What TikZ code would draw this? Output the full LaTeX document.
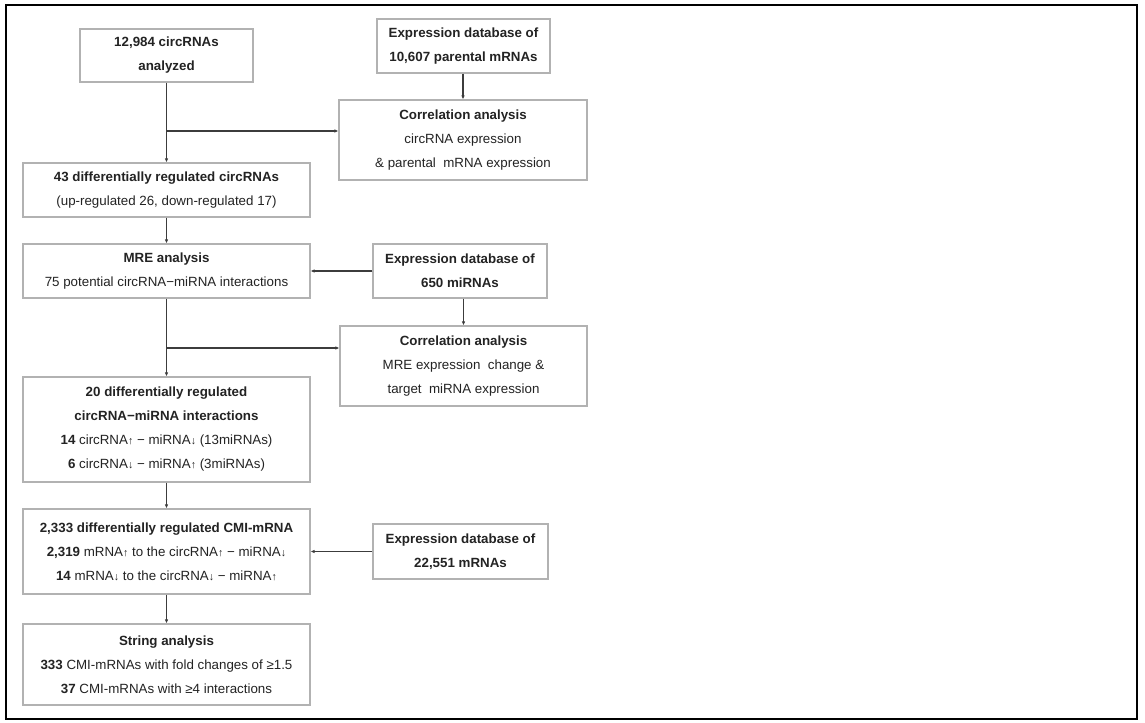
\documentclass[tikz,border=0pt]{standalone}
\usepackage{fontspec}
\setmainfont{Liberation Sans}
\usetikzlibrary{arrows.meta}
\definecolor{boxgray}{RGB}{178,178,178}
\definecolor{linegray}{RGB}{60,60,60}
\definecolor{txtgray}{RGB}{35,35,35}
\newcommand{\mup}{{\fontsize{8}{8}\selectfont↑}}
\newcommand{\mdn}{{\fontsize{8}{8}\selectfont↓}}

\begin{document}
\begin{tikzpicture}[x=0.75pt, y=-0.75pt,
        box/.style={draw=boxgray, line width=0.8pt, fill=white, align=center, inner sep=0pt,
                    text=txtgray, font=\fontsize{10}{18}\selectfont},
        flow/.style={draw=linegray, line width=0.8pt, -{Latex[length=3pt,width=2.6pt]}}]
                % Frame:
                \useasboundingbox (0,0) rectangle (1145,723);
                \draw[line width=1.2pt] (6,5) rectangle (1137,719);

                % Left column:
                \node[box, minimum width=129.75pt, minimum height=39.75pt] (total) at (166.5,55.5)
                    {\textbf{12,984 circRNAs}\\\textbf{analyzed}};
                \node[box, minimum width=215.25pt, minimum height=40.5pt] (diffcirc) at (166.5,190)
                    {\textbf{43 differentially regulated circRNAs}\\(up-regulated 26, down-regulated 17)};
                \node[box, minimum width=215.25pt, minimum height=40.5pt] (mre) at (166.5,271)
                    {\textbf{MRE analysis}\\75 potential circRNA−miRNA interactions};
                \node[box, minimum width=215.25pt, minimum height=78.75pt] (diffint) at (166.5,429.5)
                    {\textbf{20 differentially regulated}\\\textbf{circRNA−miRNA interactions}\\
                     \textbf{14} circRNA\mup{} − miRNA\mdn{} (13miRNAs)\\
                     \textbf{6} circRNA\mdn{} − miRNA\mup{} (3miRNAs)};
                \node[box, minimum width=215.25pt, minimum height=63.75pt] (cmi) at (166.5,551.5)
                    {\textbf{2,333 differentially regulated CMI-mRNA}\\
                     \textbf{2,319} mRNA\mup{} to the circRNA\mup{} − miRNA\mdn\\
                     \textbf{14} mRNA\mdn{} to the circRNA\mdn{} − miRNA\mup};
                \node[box, minimum width=215.25pt, minimum height=60.75pt] (string) at (166.5,664.5)
                    {\textbf{String analysis}\\\textbf{333} CMI-mRNAs with fold changes of ≥1.5\\
                     \textbf{37} CMI-mRNAs with ≥4 interactions};

                % Right column:
                \node[box, minimum width=129.75pt, minimum height=40.5pt] (parentdb) at (463.5,46)
                    {\textbf{Expression database of}\\\textbf{10,607 parental mRNAs}};
                \node[box, minimum width=186pt, minimum height=60pt] (corr1) at (463,140)
                    {\textbf{Correlation analysis}\\circRNA expression\\\& parental\ \ mRNA expression};
                \node[box, minimum width=130.5pt, minimum height=40.5pt] (mirdb) at (460,271)
                    {\textbf{Expression database of}\\\textbf{650 miRNAs}};
                \node[box, minimum width=185.25pt, minimum height=60pt] (corr2) at (463.5,366)
                    {\textbf{Correlation analysis}\\MRE expression\ \ change \&\\target\ \ miRNA expression};
                \node[box, minimum width=131.25pt, minimum height=41.25pt] (mrnadb) at (460.5,551.5)
                    {\textbf{Expression database of}\\\textbf{22,551 mRNAs}};

                % Arrows:
                \coordinate (split1) at (166.5,131);
                \coordinate (split2) at (166.5,348);
                \draw[flow] (total) -- (diffcirc);
                \draw[flow] (split1) -- (split1 -| corr1.west);
                \draw[flow] (parentdb.south -| corr1.north) -- (corr1.north);
                \draw[flow] (diffcirc) -- (mre);
                \draw[flow] (mirdb.west) -- (mre.east);
                \draw[flow] (mre) -- (diffint);
                \draw[flow] (split2) -- (split2 -| corr2.west);
                \draw[flow] (mirdb.south -| corr2.north) -- (corr2.north);
                \draw[flow] (diffint) -- (cmi);
                \draw[flow] (mrnadb.west) -- (cmi.east);
                \draw[flow] (cmi) -- (string);
\end{tikzpicture}
\end{document}
